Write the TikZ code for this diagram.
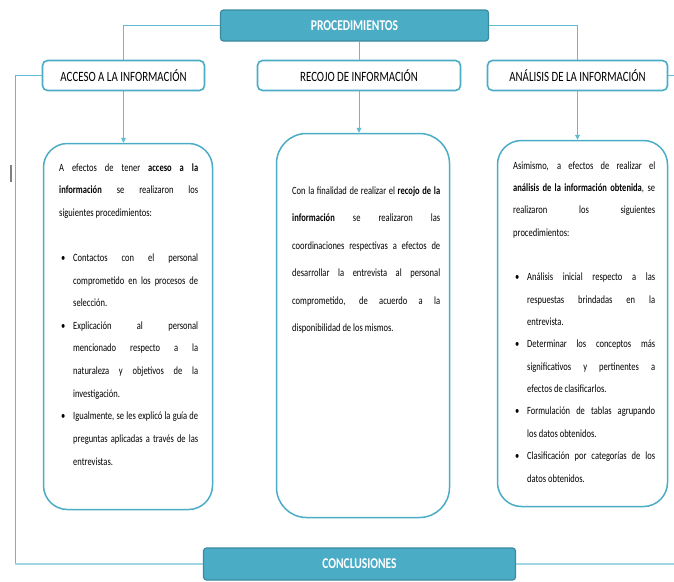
\documentclass[tikz,border=0pt]{standalone}
\usepackage{fontspec}
\usepackage{graphicx}
\setmainfont{Carlito}
\usetikzlibrary{positioning,arrows.meta,calc}
\definecolor{tealfill}{HTML}{4BACC6}
\definecolor{tealdark}{HTML}{3A8AA0}
\definecolor{tealline}{HTML}{62BBD3}
\definecolor{teallight}{HTML}{A3D6E4}
\newcommand{\tall}[1]{\scalebox{1}[1.3]{#1}}
\newcommand{\itm}{\par\hangindent=14pt\hangafter=1\noindent\hspace*{2pt}\makebox[12pt][l]{\textbullet}}
\newcommand{\gap}{\par\vspace{\baselineskip}}
\newcommand{\bodyset}[1]{\fontsize{8.5}{#1}\selectfont\hyphenpenalty=10000\tolerance=10000\relax}

\begin{document}
\begin{tikzpicture}[x=1pt,y=-1pt]
  \tikzstyle{mainbox}=[draw=tealdark,line width=1.2pt,rounded corners=3pt,fill=tealfill,minimum height=31pt,inner sep=0pt,text=white,font=\fontsize{11.5}{12}\selectfont\bfseries]
  \tikzstyle{headbox}=[draw=tealfill,line width=1.6pt,rounded corners=5pt,fill=white,minimum height=30pt,inner sep=0pt,font=\fontsize{10.9}{12}\selectfont]
  \tikzstyle{textbox}=[draw=tealfill,line width=1.5pt,rounded corners=24pt,inner sep=0pt]
  \tikzstyle{bodytext}=[anchor=base west,inner sep=0pt]
  \tikzstyle{link}=[draw=tealline,line width=0.9pt]
  \tikzstyle{arr}=[draw=tealline,line width=0.9pt,-{Triangle[length=5pt,width=5pt]}]
  \useasboundingbox (0,0) rectangle (674,581);
  % Top -- Procedimientos
  \node[mainbox,minimum width=268pt] (proc) at (354.5,25.5) {\tall{PROCEDIMIENTOS}};
  % Headings
  \node[headbox,minimum width=162pt] (acc) at (123.5,75.5) {\tall{ACCESO A LA INFORMACIÓN}};
  \node[headbox,minimum width=203pt] (rec) at (359,75.5) {\tall{RECOJO DE INFORMACIÓN}};
  \node[headbox,minimum width=180pt] (ana) at (577.5,75.5) {\tall{ANÁLISIS DE LA INFORMACIÓN}};
  % Content boxes
  \node[textbox,minimum width=169pt,minimum height=366pt] (c1) at (128,326.5) {};
  \node[textbox,rounded corners=30pt,minimum width=173pt,minimum height=384pt] (c2) at (363,325.5) {};
  \node[textbox,minimum width=170pt,minimum height=366pt] (c3) at (582.5,323.5) {};
  \node[bodytext] (t1) at (59,171) {\tall{\parbox[t]{139pt}{\bodyset{17.4}A efectos de tener \textbf{acceso a la}\linebreak
    \textbf{información} se realizaron los\linebreak
    siguientes procedimientos:\gap
    \itm Contactos con el personal\linebreak comprometido en los procesos de\linebreak selección.
    \itm Explicación al personal\linebreak mencionado respecto a la\linebreak naturaleza y objetivos de la\linebreak investigación.
    \itm Igualmente, se les explicó la guía de\linebreak preguntas aplicadas a través de las\linebreak entrevistas.}}};
  \node[bodytext] (t2) at (292,194) {\tall{\parbox[t]{148pt}{\bodyset{21.2}Con la finalidad de realizar el \textbf{recojo de la}\linebreak
    \textbf{información} se realizaron las\linebreak
    coordinaciones respectivas a efectos de\linebreak
    desarrollar la entrevista al personal\linebreak
    comprometido, de acuerdo a la\linebreak
    disponibilidad de los mismos.}}};
  \node[bodytext] (t3) at (513,169) {\tall{\parbox[t]{142pt}{\bodyset{17.2}Asimismo, a efectos de realizar el\linebreak
    \textbf{análisis de la información obtenida}, se\linebreak
    realizaron los siguientes\linebreak
    procedimientos:\gap
    \itm Análisis inicial respecto a las\linebreak respuestas brindadas en la\linebreak entrevista.
    \itm Determinar los conceptos más\linebreak significativos y pertinentes a\linebreak efectos de clasificarlos.
    \itm Formulación de tablas agrupando\linebreak los datos obtenidos.
    \itm Clasificación por categorías de los\linebreak datos obtenidos.}}};
  % Bottom -- Conclusiones
  \node[mainbox,minimum width=312pt,minimum height=32pt] (conc) at (359.5,564) {\tall{CONCLUSIONES}};
  % Edges
  \coordinate (lft) at (15,564);
  \coordinate (rtop) at (674,75.5);
  \coordinate (rbot) at (674,564);
  \draw[link] (proc.west) -| (acc.north);
  \draw[link] (proc.east) -| (ana.north);
  \draw[link] (rec.north |- proc.south) -- (rec.north);
  \draw[link] (acc.west) -| (lft);
  \draw[draw=teallight,line width=1.4pt] (lft) -- (conc.west);
  \draw[draw=teallight,line width=1.4pt] (conc.east) -- (rbot);
  \draw[link] (ana.east) -- (rtop);
  \draw[arr] (acc.south) -- (acc.south |- c1.north);
  \draw[arr] (rec.south) -- (rec.south |- c2.north);
  \draw[arr] (ana.south) -- (ana.south |- c3.north);
  % cursor mark
  \draw[gray,line width=1.2pt] (11,165) -- (11,182);
\end{tikzpicture}
\end{document}
